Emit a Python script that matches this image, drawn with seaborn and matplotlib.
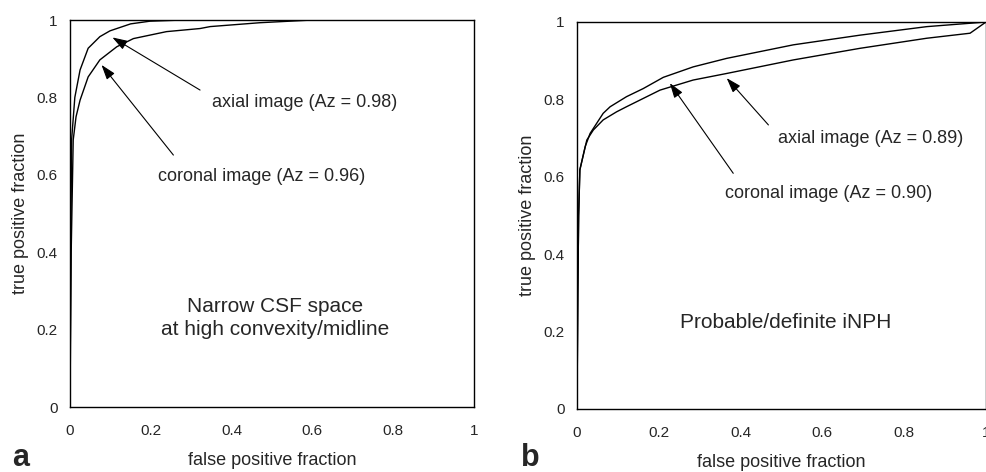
import matplotlib
matplotlib.use('Agg')
import matplotlib.pyplot as plt
import seaborn as sns

sns.set_style('white')
plt.rcParams['font.family'] = ['Liberation Sans', 'DejaVu Sans']

# panel a: narrow CSF space at high convexity/midline
a_axial_fpf = [0, 0.002, 0.004, 0.012, 0.025, 0.045, 0.074, 0.099, 0.116, 0.15, 0.198, 0.28]
a_axial_tpf = [0, 0.40, 0.69, 0.80, 0.871, 0.927, 0.957, 0.972, 0.978, 0.99, 0.997, 1.0]
a_coronal_fpf = [0, 0.003, 0.008, 0.015, 0.025, 0.045, 0.074, 0.116, 0.157, 0.239, 0.322,
                 0.347, 0.47, 0.6]
a_coronal_tpf = [0, 0.40, 0.69, 0.75, 0.793, 0.853, 0.897, 0.931, 0.952, 0.97, 0.978,
                 0.983, 0.993, 1.0]

# panel b: probable/definite iNPH
b_coronal_fpf = [0, 0.002, 0.004, 0.007, 0.02, 0.032, 0.048, 0.064, 0.081, 0.121, 0.162,
                 0.211, 0.284, 0.366, 0.529, 0.692, 0.855, 1.0]
b_coronal_tpf = [0, 0.30, 0.50, 0.618, 0.678, 0.712, 0.738, 0.764, 0.781, 0.807, 0.828,
                 0.857, 0.884, 0.906, 0.941, 0.966, 0.988, 1.0]
b_axial_fpf = [0, 0.002, 0.004, 0.007, 0.024, 0.04, 0.064, 0.097, 0.121, 0.203, 0.284,
               0.366, 0.529, 0.692, 0.855, 0.961, 1.0]
b_axial_tpf = [0, 0.30, 0.50, 0.618, 0.695, 0.721, 0.747, 0.768, 0.781, 0.824, 0.85,
               0.867, 0.902, 0.932, 0.958, 0.971, 1.0]

ticks = [0, 0.2, 0.4, 0.6, 0.8, 1]
tick_labels = ['0', '0.2', '0.4', '0.6', '0.8', '1']


def roc_panel(ax, curves, notes, title, title_xy):
    '''Draws one ROC panel with its curves, arrows and caption.'''
    for fpf, tpf in curves:
        sns.lineplot(x=fpf, y=tpf, ax=ax, color='black', lw=1,
                     estimator=None, sort=False)
    for text, text_xy, tail, tip in notes:
        ax.text(text_xy[0], text_xy[1], text, fontsize=13, va='center', ha='left')
        ax.annotate('', xy=tip, xytext=tail,
                    arrowprops=dict(arrowstyle='-|>,head_length=0.9,head_width=0.3',
                                    color='black', lw=0.8, shrinkA=0, shrinkB=0))
    ax.text(title_xy[0], title_xy[1], title, fontsize=15, ha='center', va='center',
            linespacing=1.25)
    ax.set_xlim(0, 1)
    ax.set_ylim(0, 1)
    ax.set_xticks(ticks)
    ax.set_xticklabels(tick_labels)
    ax.set_yticks(ticks)
    ax.set_yticklabels(tick_labels)
    ax.tick_params(direction='in', length=4, width=1, labelsize=11, color='black')
    ax.tick_params(axis='x', pad=12)
    ax.tick_params(axis='y', pad=9)
    for spine in ax.spines.values():
        spine.set_color('black')
        spine.set_linewidth(1)
    ax.set_xlabel('false positive fraction', fontsize=13, labelpad=10)
    ax.set_ylabel('true positive fraction', fontsize=13, labelpad=5)


fig = plt.figure(figsize=(9.87, 4.72), dpi=100)
ax_a = fig.add_axes([0.0709, 0.1377, 0.4093, 0.8199])
ax_b = fig.add_axes([0.5846, 0.1335, 0.4144, 0.8199])

roc_panel(ax_a,
          [(a_axial_fpf, a_axial_tpf), (a_coronal_fpf, a_coronal_tpf)],
          [('axial image (Az = 0.98)', (0.351, 0.786), (0.322, 0.819), (0.105, 0.955)),
           ('coronal image (Az = 0.96)', (0.217, 0.595), (0.256, 0.651), (0.078, 0.884))],
          'Narrow CSF space\nat high convexity/midline', (0.507, 0.23))

roc_panel(ax_b,
          [(b_coronal_fpf, b_coronal_tpf), (b_axial_fpf, b_axial_tpf)],
          [('axial image (Az = 0.89)', (0.491, 0.70), (0.468, 0.734), (0.366, 0.855)),
           ('coronal image (Az = 0.90)', (0.362, 0.558), (0.382, 0.609), (0.227, 0.842))],
          'Probable/definite iNPH', (0.509, 0.223))

fig.text(0.012, 0.013, 'a', fontsize=22, fontweight='bold', va='baseline')
fig.text(0.528, 0.013, 'b', fontsize=22, fontweight='bold', va='baseline')

fig.savefig('out.png', dpi=100)
